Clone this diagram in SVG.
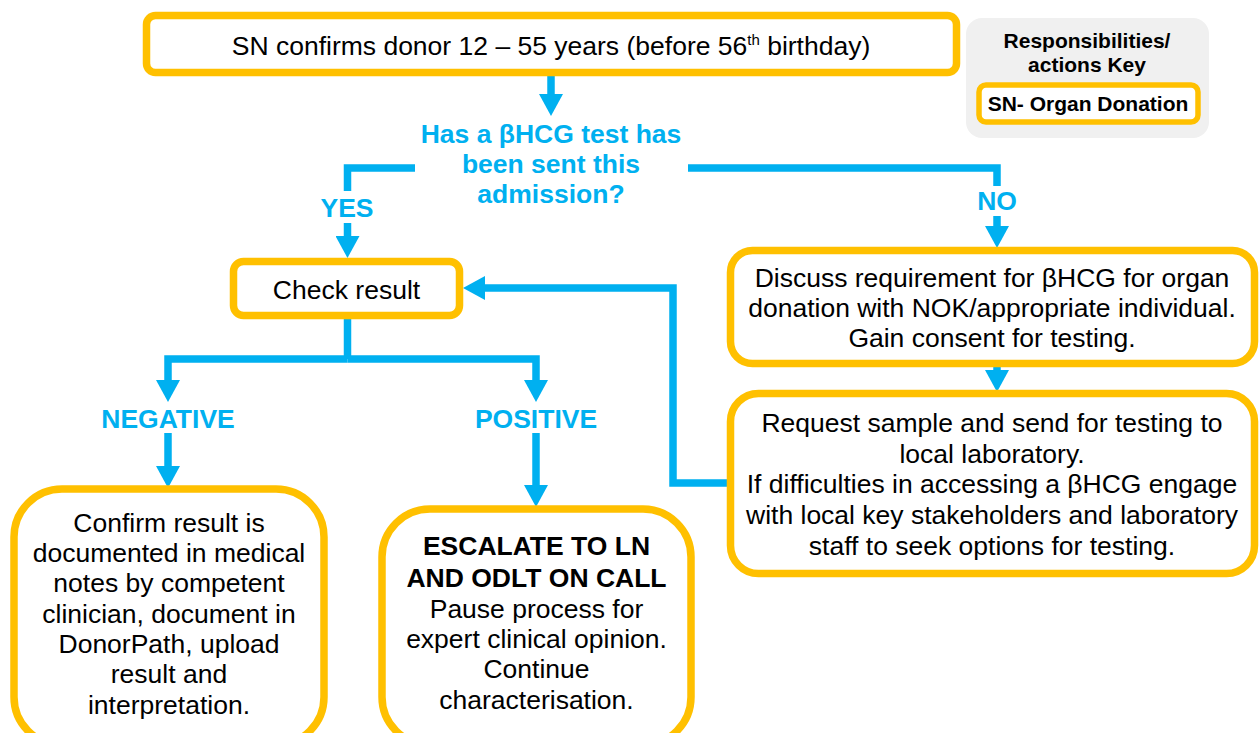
<svg xmlns="http://www.w3.org/2000/svg" width="1260" height="733" viewBox="0 0 1260 733">
  <style>
    .box { fill: #ffffff; stroke: #ffc000; stroke-width: 7.5; }
    .txt { font-family: "Liberation Sans", Arial, sans-serif; font-size: 26.5px; fill: #000000; text-anchor: middle; }
    .bold { font-weight: bold; }
    .lbl { font-family: "Liberation Sans", Arial, sans-serif; font-size: 26.5px; font-weight: bold; fill: #00b0f0; text-anchor: middle; }
    .key { font-family: "Liberation Sans", Arial, sans-serif; font-size: 21px; font-weight: bold; fill: #000000; text-anchor: middle; }
    .conn { fill: none; stroke: #00b0f0; stroke-width: 7.5; stroke-linejoin: miter; stroke-linecap: butt; }
    .arrow { marker-end: url(#head); }
  </style>
  <defs>
    <marker id="head" viewBox="0 0 22 24" refX="0" refY="12" markerWidth="22" markerHeight="24" markerUnits="userSpaceOnUse" orient="auto">
      <polygon points="0,0 22,12 0,24" fill="#00b0f0"/>
    </marker>
  </defs>

  <rect width="1260" height="733" fill="#ffffff"/>

  <!-- connectors -->
  <g id="connectors">
    <path class="conn arrow" d="M551,76 V94"/>
    <path class="conn" d="M415,168 H347.5 V191"/>
    <path class="conn arrow" d="M347.5,223 V236"/>
    <path class="conn" d="M688,168 H997 V186"/>
    <path class="conn arrow" d="M997,216 V226"/>
    <path class="conn" d="M347.5,315 V359"/>
    <path class="conn arrow" d="M347.5,359 H168 V380"/>
    <path class="conn arrow" d="M347.5,359 H536 V380"/>
    <path class="conn arrow" d="M168,433 V466"/>
    <path class="conn arrow" d="M536,433 V485"/>
    <path class="conn arrow" d="M997,364 V370"/>
    <path class="conn arrow" d="M731,483 H673 V288 H485"/>
  </g>

  <!-- decision question and branch labels -->
  <g id="decision">
    <text class="lbl" x="551" y="143">Has a βHCG test has</text>
    <text class="lbl" x="551" y="173">been sent this</text>
    <text class="lbl" x="551" y="203">admission?</text>
  </g>
  <text class="lbl" x="347" y="217">YES</text>
  <text class="lbl" x="997" y="210">NO</text>
  <text class="lbl" x="168" y="428">NEGATIVE</text>
  <text class="lbl" x="536" y="428">POSITIVE</text>

  <!-- start -->
  <g id="start">
    <rect class="box" x="146.5" y="15.5" width="810" height="57" rx="9"/>
    <text class="txt" x="551" y="55">SN confirms donor 12 – 55 years (before 56<tspan font-size="15" dy="-10">th</tspan><tspan dy="10"> birthday)</tspan></text>
  </g>

  <!-- legend -->
  <g id="legend">
    <rect x="966" y="18" width="243" height="120" rx="16" fill="#f0f0f0"/>
    <text class="key" x="1087" y="48">Responsibilities/</text>
    <text class="key" x="1087" y="72">actions Key</text>
    <rect x="979" y="85" width="219" height="37" rx="7" fill="#ffffff" stroke="#ffc000" stroke-width="5.5"/>
    <text class="key" x="1088" y="111">SN- Organ Donation</text>
  </g>

  <g id="check">
    <rect class="box" x="233.5" y="261.5" width="226" height="54" rx="10"/>
    <text class="txt" x="346.5" y="299">Check result</text>
  </g>

  <g id="discuss">
    <rect class="box" x="730.5" y="250.5" width="524" height="113" rx="22"/>
    <text class="txt" x="992" y="287">Discuss requirement for βHCG for organ</text>
    <text class="txt" x="992" y="317">donation with NOK/appropriate individual.</text>
    <text class="txt" x="992" y="347">Gain consent for testing.</text>
  </g>

  <g id="request">
    <rect class="box" x="730.5" y="393.5" width="524" height="180" rx="28"/>
    <text class="txt" x="992" y="432">Request sample and send for testing to</text>
    <text class="txt" x="992" y="463">local laboratory.</text>
    <text class="txt" x="992" y="493">If difficulties in accessing a βHCG engage</text>
    <text class="txt" x="992" y="524">with local key stakeholders and laboratory</text>
    <text class="txt" x="992" y="555">staff to seek options for testing.</text>
  </g>

  <g id="negative">
    <rect class="box" x="14" y="489" width="310" height="256" rx="48"/>
    <text class="txt" x="169" y="532">Confirm result is</text>
    <text class="txt" x="169" y="562">documented in medical</text>
    <text class="txt" x="169" y="592">notes by competent</text>
    <text class="txt" x="169" y="623">clinician, document in</text>
    <text class="txt" x="169" y="653">DonorPath, upload</text>
    <text class="txt" x="169" y="683">result and</text>
    <text class="txt" x="169" y="714">interpretation.</text>
  </g>

  <g id="positive">
    <rect class="box" x="382" y="509" width="309" height="236" rx="48"/>
    <text class="txt bold" x="536.5" y="555">ESCALATE TO LN</text>
    <text class="txt bold" x="536.5" y="587">AND ODLT ON CALL</text>
    <text class="txt" x="536.5" y="618">Pause process for</text>
    <text class="txt" x="536.5" y="648">expert clinical opinion.</text>
    <text class="txt" x="536.5" y="678">Continue</text>
    <text class="txt" x="536.5" y="709">characterisation.</text>
  </g>
</svg>
